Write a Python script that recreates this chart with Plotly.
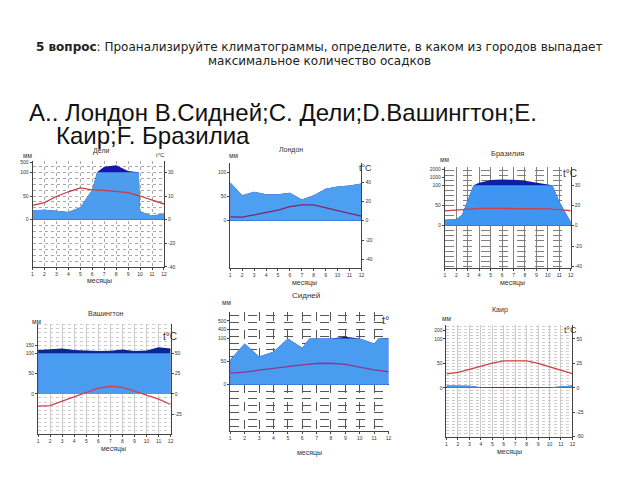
import plotly.graph_objects as go

W, H = 640, 480

MONTHS = list(range(1, 13))
month_labels = [str(m) for m in MONTHS]

# ---------------- data (precip in chart units: above 100 = compressed scale) ----
delhi_p_months = [1, 2, 3, 4, 5, 6, 6.4, 7, 8, 9, 9.9, 10, 11, 12]
delhi_precip = [20, 21, 19, 16, 26, 63, 100, 112, 115, 103, 100, 18, 8, 13]
delhi_temp = [15, 18, 24.5, 29.5, 33.5, 31.5, 31, 29.5, 28.5, 25, 21, 16.5]

london_p_months = MONTHS
london_precip = [79, 53, 60, 55, 55, 58, 44, 53, 66, 71, 73, 77]
london_temp = [4, 3.8, 6, 8.5, 11, 14.5, 16.5, 16.5, 13.8, 10.5, 7.5, 4.8]

brasilia_p_months = [1, 2, 2.5, 3, 3.5, 4, 5, 6, 7, 8, 9, 10, 10.4, 11, 12]
brasilia_precip = [15, 16, 27, 63, 100, 106, 113, 114, 113.5, 111, 107, 101.5, 100, 60, 10]
brasilia_temp = [18.3, 19.5, 20.8, 21.3, 21.5, 21.5, 21.5, 21.3, 21, 20.8, 20, 18.5]

washington_p_months = MONTHS
washington_precip = [108, 110.5, 112, 108, 106.5, 105.7, 106.5, 109, 105.7, 107, 114.6, 112]
washington_temp = [-15, -14.3, -9, -3.5, 2, 7, 9.4, 8, 3.3, -1.5, -6.5, -13]

sydney_p_months = [1, 2, 3, 4, 5, 6, 6.5, 7, 8, 9, 10, 11, 11.3, 12]
sydney_precip = [54, 89, 61, 71, 100, 80, 100, 100, 100, 103.6, 100, 89, 100, 101]
sydney_temp = [12.5, 13.5, 15.7, 17.9, 19.5, 21.5, 22.9, 23.2, 22, 19, 16, 14]

cairo_p_months = MONTHS
cairo_precip = [5, 5, 4.5, 1, 0, 0, 0, 0, 0, 1, 3, 5]
cairo_temp = [14.2, 15.9, 18.9, 22.5, 25.4, 27.7, 28, 27.7, 25, 21.3, 17.5, 14.5]

question_line1 = "<b>5 вопрос</b>: Проанализируйте климатограммы, определите, в каком из городов выпадает"
question_line2 = "максимальное количество осадков"
answers_line1 = "А.. Лондон В.Сидней;С. Дели;D.Вашингтон;Е."
answers_line2 = "Каир;F. Бразилиа"

# ---------------- panel layout ----------------
panels = [
    dict(name="Дели", pm=delhi_p_months, p=delhi_precip, t=delhi_temp,
         box=(31.7, 164, 160.7, 267.7), yr=(-100, 124),
         lt=([0, 50, 100, 121], ["0", "50", "100", "500"]),
         rt=([50, 25, 0, -25, -50], ["30", "10", "0", "-20", "-40"]),
         title=(101, 151, 7), mm=(27, 155), tc=(160, 155, 6, "t°C"), mes=(99, 282),
         light="#4d9def", dark="#1515b0", tcol="#c83a44",
         grid=dict(color="#a8a8a8", dash="dot", minor=12.5, vgrid=True, vdash="dot")),
    dict(name="Лондон", pm=london_p_months, p=london_precip, t=london_temp,
         box=(230.7, 362.7, 163, 268.3), yr=(-97, 119),
         lt=([0, 50, 100], ["0", "50", "100"]),
         rt=([40, 20, 0, -20, -40], ["40", "20", "0", "-20", "-40"]),
         title=(291.7, 150, 7), mm=(234, 155), tc=(366.7, 168, 9, "t°C"), mes=(305, 284),
         light="#4d9ff2", dark="#1515b0", tcol="#7a2a6a",
         grid=None),
    dict(name="Бразилия", pm=brasilia_p_months, p=brasilia_precip, t=brasilia_temp,
         box=(446.7, 573.3, 166.7, 268.3), yr=(-103, 145),
         lt=([0, 50, 100, 120, 139], ["0", "50", "100", "1000", "2000"]),
         rt=([50, 25, 0, -25, -50], ["30", "20", "0", "-20", "-40"]),
         title=(510, 153, 7.5), mm=(446.7, 159), tc=(573, 173, 10, "t°C"), mes=(515, 284),
         light="#3f96f2", dark="#0d1fa8", tcol="#d04040",
         grid=dict(color="#808080", dash="dash", minor=12.5, vgrid=True, vdash="solid")),
    dict(name="Вашингтон", pm=washington_p_months, p=washington_precip, t=washington_temp,
         box=(37.3, 170.7, 325, 436.7), yr=(-99, 173),
         lt=([0, 50, 100, 120], ["0", "50", "100", "150"]),
         rt=([50, 25, 0, -25, -50], ["50", "25", "0", "-25", "-50"]),
         title=(106, 315, 7), mm=(35.7, 323), tc=(170, 338, 10, "t°C"), mes=(113, 452),
         light="#4a9cf0", dark="#0b2596", tcol="#d04050",
         grid=dict(color="#cccccc", dash="dot", minor=10, vgrid=True, vdash="solid")),
    dict(name="Сидней", pm=sydney_p_months, p=sydney_precip, t=sydney_temp,
         box=(230.7, 390, 313.3, 434), yr=(-101, 157),
         lt=([0, 50, 100, 119, 138], ["0", "50", "100", "400", "500"]),
         rt=None,
         title=(306.7, 297, 8), mm=(226.7, 304), tc=(386.7, 321.7, 11, "t°"), mes=(310, 456),
         light="#4a9cf0", dark="#1515b0", tcol="#8a3a8a",
         grid=dict(color="#555555", dash="dash", minor=15, vgrid=True, vdash="dash")),
    dict(name="Каир", pm=cairo_p_months, p=cairo_precip, t=cairo_temp,
         box=(448.3, 575, 326.7, 439.3), yr=(-100, 128),
         lt=([0, 50, 100, 118], ["0", "50", "100", "200"]),
         rt=([50, 25, 0, -25, -50], ["50", "25", "0", "-25", "-50"]),
         title=(501.7, 311.7, 7), mm=(448.3, 320), tc=(573.3, 331.7, 9, "t°C"), mes=(511.7, 455),
         light="#4a9ce8", dark="#1515b0", tcol="#d04040",
         grid=dict(color="#cccccc", dash="dot", minor=6.25, vgrid=True, vdash="solid")),
]

fig = go.Figure()
layout = dict(width=W, height=H, margin=dict(l=0, r=0, t=0, b=0),
              paper_bgcolor="white", plot_bgcolor="rgba(0,0,0,0)", showlegend=False)
annotations = []

FONT = "Liberation Sans, Arial, sans-serif"


def ann(text, x, y, size, xanchor="center", color="#333", family=FONT):
    annotations.append(dict(text=text, x=x / W, y=1 - y / H, xref="paper", yref="paper",
                            showarrow=False, xanchor=xanchor, yanchor="middle",
                            font=dict(size=size, color=color, family=family)))


for i, pn in enumerate(panels, start=1):
    xk = "x" if i == 1 else f"x{i}"
    yk = "y" if i == 1 else f"y{i}"
    tk = f"y{i + 6}"
    l, r, t, b = pn["box"]
    xdom = [l / W, r / W]
    ydom = [1 - b / H, 1 - t / H]
    capped = [min(v, 100) for v in pn["p"]]
    fig.add_trace(go.Scatter(x=pn["pm"], y=pn["p"], mode="lines", fill="tozeroy",
                             fillcolor=pn["dark"], line=dict(width=0, color=pn["dark"]),
                             xaxis=xk, yaxis=yk, hoverinfo="skip"))
    fig.add_trace(go.Scatter(x=pn["pm"], y=capped, mode="lines", fill="tozeroy",
                             fillcolor=pn["light"], line=dict(width=0, color=pn["light"]),
                             xaxis=xk, yaxis=yk, hoverinfo="skip"))
    fig.add_trace(go.Scatter(x=MONTHS, y=pn["t"], mode="lines",
                             line=dict(width=1.3, color=pn["tcol"]),
                             xaxis=xk, yaxis=tk, hoverinfo="skip"))
    g = pn["grid"]
    xax = dict(domain=xdom, anchor=yk, range=[1, 12], tickvals=MONTHS, ticktext=month_labels,
               showline=True, linecolor="#444", linewidth=1, ticks="outside", ticklen=2,
               tickcolor="#444", tickfont=dict(size=5, color="#333", family=FONT),
               showgrid=bool(g and g["vgrid"]), zeroline=False)
    if g:
        xax.update(gridcolor=g["color"], griddash=g["vdash"], gridwidth=0.6)
    yax = dict(domain=ydom, anchor=xk, range=list(pn["yr"]), tickvals=pn["lt"][0],
               ticktext=pn["lt"][1], showline=True, linecolor="#444", linewidth=1,
               ticks="outside", ticklen=2, tickcolor="#444",
               tickfont=dict(size=5, color="#333", family=FONT),
               zeroline=True, zerolinecolor="#2a3a6a", zerolinewidth=1, showgrid=False)
    if g:
        yax.update(minor=dict(tick0=0, dtick=g["minor"], showgrid=True, gridcolor=g["color"],
                              griddash=g["dash"], gridwidth=0.6))
    tax = dict(domain=ydom, anchor=xk, overlaying=yk, side="right",
               range=[pn["yr"][0] / 2, pn["yr"][1] / 2], showgrid=False, zeroline=False)
    if pn["rt"]:
        tax.update(tickvals=pn["rt"][0], ticktext=pn["rt"][1], showline=True, linecolor="#444",
                   linewidth=1, ticks="outside", ticklen=2, tickcolor="#444",
                   tickfont=dict(size=5, color="#333", family=FONT))
    else:
        tax.update(showticklabels=False, showline=False)
    layout["xaxis" if i == 1 else f"xaxis{i}"] = xax
    layout["yaxis" if i == 1 else f"yaxis{i}"] = yax
    layout[f"yaxis{i + 6}"] = tax

    tx, ty, ts = pn["title"]
    ann(pn["name"], tx, ty, ts)
    ann("мм", pn["mm"][0], pn["mm"][1], 6.5)
    cx, cy, cs, ctext = pn["tc"]
    ann(ctext, cx, cy, cs)
    ann("месяцы", pn["mes"][0], pn["mes"][1], 7)

QFONT = "DejaVu Sans, Verdana, sans-serif"
ann(question_line1, 320, 45, 12, color="#222", family=QFONT)
ann(question_line2, 320, 59.5, 12, color="#222", family=QFONT)
ann(answers_line1, 26, 112, 24, xanchor="left", color="#111")
ann(answers_line2, 53, 134.5, 24, xanchor="left", color="#111")

layout["annotations"] = annotations
fig.update_layout(**layout)
fig.write_html("out.html", config={"displayModeBar": False},
               post_script="document.body.style.margin='0';document.body.style.overflow='hidden';")
